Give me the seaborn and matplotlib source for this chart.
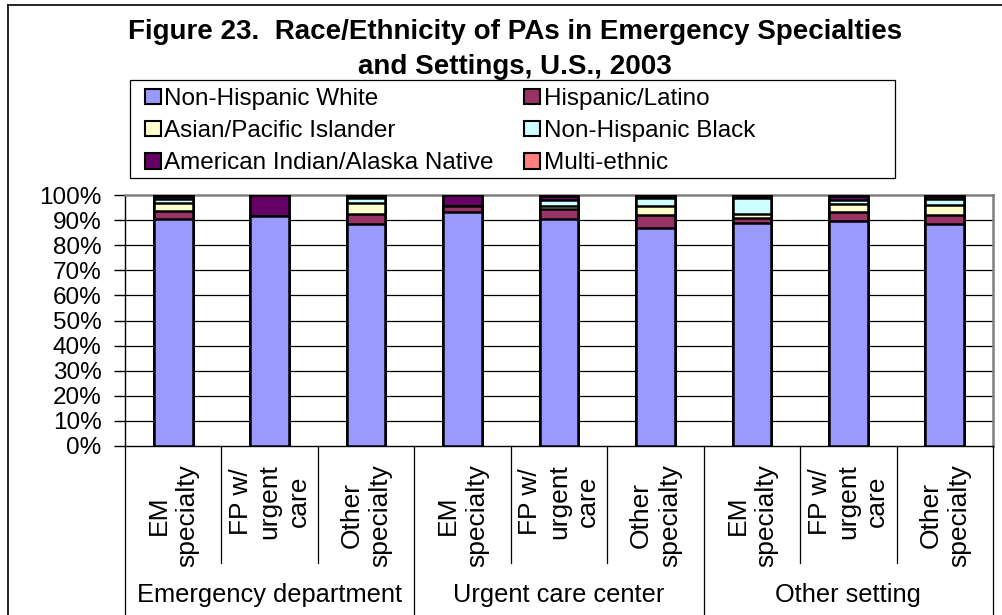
import matplotlib
matplotlib.use("Agg")
import matplotlib.pyplot as plt
import matplotlib.transforms as mtransforms
from matplotlib.patches import Patch, Rectangle
from matplotlib.lines import Line2D
import seaborn as sns
import pandas as pd
import numpy as np

# ---------------- data ----------------
groups = ["Emergency department", "Urgent care center", "Other setting"]
subcats = ["EM\nspecialty", "FP w/\nurgent\ncare", "Other\nspecialty"]
keys = ["ED-EM", "ED-FP", "ED-OT", "UC-EM", "UC-FP", "UC-OT", "OS-EM", "OS-FP", "OS-OT"]

series_names = ["Non-Hispanic White", "Hispanic/Latino", "Asian/Pacific Islander",
                "Non-Hispanic Black", "American Indian/Alaska Native", "Multi-ethnic"]
nh_white = [90.5, 91.6, 88.6, 93.4, 90.5, 86.7, 88.9, 89.7, 88.6]
hispanic = [3.0, 0.0, 4.0, 2.2, 4.0, 5.4, 2.1, 3.7, 3.5]
asian = [3.2, 0.0, 4.3, 0.0, 1.0, 3.5, 1.6, 3.0, 3.8]
nh_black = [1.8, 0.0, 2.1, 0.0, 2.5, 3.2, 6.2, 1.6, 2.6]
aian = [1.0, 8.4, 0.7, 4.4, 1.5, 1.0, 0.8, 1.5, 1.0]
multi = [0.5, 0.0, 0.3, 0.0, 0.5, 0.2, 0.4, 0.5, 0.5]
ytick_labels = ["0%", "10%", "20%", "30%", "40%", "50%", "60%", "70%", "80%", "90%", "100%"]

colors = ["#9999FF", "#993366", "#FFFFCC", "#CCFFFF", "#660066", "#FF8080"]

series = [nh_white, hispanic, asian, nh_black, aian, multi]
df = pd.DataFrame({"key": keys})
cum = np.zeros(len(keys))
cum_cols = []
for name, vals in zip(series_names, series):
    cum = cum + np.array(vals)
    df[name] = cum
    cum_cols.append(name)

# ---------------- figure ----------------
FONT = "Liberation Sans"
plt.rcParams["font.family"] = [FONT, "DejaVu Sans"]

W, H = 1002, 615
fig = plt.figure(figsize=(W / 100, H / 100), dpi=100)
fig.patch.set_facecolor("white")

def fx(px):
    return px / W

def fy(py):
    return 1 - py / H

ax_l, ax_r, ax_t, ax_b = 125, 993, 195, 446
ax = fig.add_axes([fx(ax_l), fy(ax_b), fx(ax_r - ax_l), (ax_b - ax_t) / H])
ax.set_facecolor("white")

# stacked bars: draw cumulative totals from top layer down
for name, col in reversed(list(zip(cum_cols, colors))):
    sns.barplot(data=df, x="key", y=name, order=keys, color=col, saturation=1,
                width=0.4, edgecolor="black", linewidth=1.8, errorbar=None, ax=ax,
                zorder=3)

ax.set_ylim(0, 100)
ax.set_xlim(-0.5, len(keys) - 0.5)
ax.set_yticks(np.arange(0, 101, 10))
ax.set_yticklabels(ytick_labels, fontsize=17.5, family=FONT)
ax.tick_params(axis="y", direction="out", length=8, width=1, color="black", pad=9)
ax.tick_params(axis="x", length=0, labelbottom=False)
ax.set_xlabel("")
ax.set_ylabel("")

for yv in range(10, 100, 10):
    ax.axhline(yv, color="black", linewidth=0.9, zorder=1)

for side in ["top", "right"]:
    ax.spines[side].set_color("#808080")
    ax.spines[side].set_linewidth(1.8)
ax.spines["left"].set_color("black")
ax.spines["left"].set_linewidth(1)
ax.spines["bottom"].set_color("black")
ax.spines["bottom"].set_linewidth(1)

# category axis labels and dividers
trans = mtransforms.blended_transform_factory(ax.transData, ax.transAxes)
axh = ax_b - ax_t
def ay(py):
    return (ax_b - py) / axh

for i, k in enumerate(keys):
    ax.text(i, ay(464), subcats[i % 3], rotation=90, ha="center", va="top",
            multialignment="center", fontsize=19, family=FONT, transform=trans,
            linespacing=1.25)

for gi, g in enumerate(groups):
    ax.text(gi * 3 + 1, ay(595), g, ha="center", va="center", fontsize=18.3,
            family=FONT, transform=trans)

for b in np.arange(-0.5, len(keys), 1.0):
    if abs(((b + 0.5) % 3)) < 1e-9:
        y_end = ay(H + 5)
    else:
        y_end = ay(563)
    ax.plot([b, b], [0, y_end], color="black", linewidth=0.9, transform=trans,
            clip_on=False, zorder=5)

# title
fig.text(fx(515), fy(39), "Figure 23.  Race/Ethnicity of PAs in Emergency Specialties",
         ha="center", va="baseline", fontsize=20, fontweight="bold", family=FONT)
fig.text(fx(515), fy(74), "and Settings, U.S., 2003",
         ha="center", va="baseline", fontsize=20, fontweight="bold", family=FONT)

# legend
handles = [Patch(facecolor=c, edgecolor="black", linewidth=1.5) for c in colors]
order_idx = [0, 2, 4, 1, 3, 5]
leg = fig.legend([handles[i] for i in order_idx], [series_names[i] for i in order_idx],
                 ncol=2, loc="upper left", bbox_to_anchor=(fx(145), fy(88)),
                 bbox_transform=fig.transFigure, frameon=False,
                 prop={"family": FONT, "size": 17.5}, borderpad=0, borderaxespad=0,
                 handlelength=0.65, handleheight=0.6, handletextpad=0.15,
                 labelspacing=0.42, columnspacing=1.25)
fig.add_artist(Rectangle((fx(130), fy(178)), fx(895 - 130), (178 - 80) / H,
                         transform=fig.transFigure, fill=False, edgecolor="black",
                         linewidth=0.9))

# outer chart frame
fig.add_artist(Line2D([fx(8), fx(8)], [fy(4.5), fy(H + 5)], transform=fig.transFigure,
                      color="black", linewidth=1.2))
fig.add_artist(Line2D([fx(8), fx(W + 5)], [fy(4.5), fy(4.5)], transform=fig.transFigure,
                      color="black", linewidth=1.2))

fig.savefig("out.png", dpi=100, facecolor="white")
